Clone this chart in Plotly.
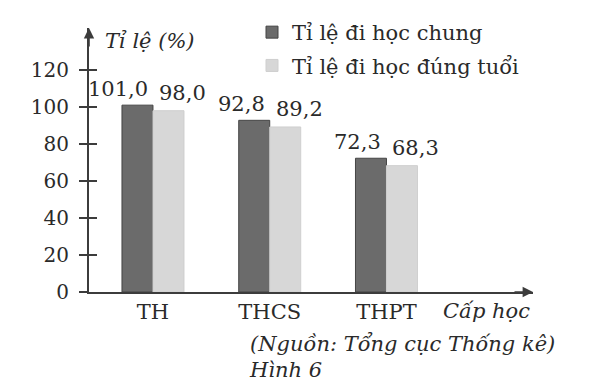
import plotly.graph_objects as go

categories = ["TH", "THCS", "THPT"]
ti_le_chung = [101.0, 92.8, 72.3]
ti_le_dung_tuoi = [98.0, 89.2, 68.3]
y_ticks = [0, 20, 40, 60, 80, 100, 120]

def fmt(v):
    return f"{v:.1f}".replace(".", ",")

FONT = "DejaVu Serif, Liberation Serif, serif"
TXT = "#2a2a2a"
FS = 21
xpos = list(range(len(categories)))

# plot area in pixels: x 81..525, y 20..284
L, R, T, B = 81, 525, 20, 284
W, H = R - L, B - T

def px(x):
    return (x - L) / W

def py(y):
    return (B - y) / H

XR = [-0.548, 3.255]
YR = [0, 142.7]

fig = go.Figure()
fig.add_trace(go.Bar(
    x=xpos, y=ti_le_chung, name="Tỉ lệ đi học chung", legendgroup="a",
    marker=dict(color="#6b6b6b", line=dict(color="#454545", width=1)),
    cliponaxis=False,
))
fig.add_trace(go.Bar(
    x=xpos, y=ti_le_dung_tuoi, name="Tỉ lệ đi học đúng tuổi", legendgroup="b",
    marker=dict(color="#d7d7d7", line=dict(color="#cfcfcf", width=1)),
    cliponaxis=False,
))
fig.add_trace(go.Scatter(x=[None], y=[None], yaxis="y2", showlegend=False,
                         hoverinfo="skip"))

# value labels: dark-bar label ends just left of the group centre,
# light-bar label starts just right of it (as in the printed figure)
for i, v in zip(xpos, ti_le_chung):
    fig.add_annotation(x=i, y=v, xref="x", yref="y", text=fmt(v),
                       showarrow=False, xanchor="right", yanchor="bottom",
                       xshift=-3, yshift=2,
                       font=dict(size=FS, color=TXT, family=FONT))
for i, v in zip(xpos, ti_le_dung_tuoi):
    fig.add_annotation(x=i, y=v, xref="x", yref="y", text=fmt(v),
                       showarrow=False, xanchor="left", yanchor="bottom",
                       xshift=4, yshift=4,
                       font=dict(size=FS, color=TXT, family=FONT))

fig.update_layout(
    width=593, height=388,
    margin=dict(l=L, r=593 - R, t=T, b=388 - B, autoexpand=False),
    paper_bgcolor="white", plot_bgcolor="white",
    font=dict(family=FONT, color=TXT, size=FS),
    barmode="group", bargap=0.469, bargroupgap=0.0,
    xaxis=dict(range=XR, tickvals=xpos, ticktext=categories, showgrid=False,
               zeroline=False, showline=True, linecolor="#3c3c3c", linewidth=2,
               ticks="", tickfont=dict(size=FS, color=TXT, family=FONT)),
    yaxis=dict(range=YR, tickvals=y_ticks, showgrid=False, zeroline=False,
               showline=True, linecolor="#3c3c3c", linewidth=2,
               ticks="outside", ticklen=8, tickwidth=1.5, tickcolor="#3c3c3c",
               ticklabelstandoff=6,
               tickfont=dict(size=FS - 1, color=TXT, family=FONT)),
    yaxis2=dict(range=YR, tickvals=y_ticks, overlaying="y", side="left",
                anchor="x", showgrid=False, zeroline=False, showline=False,
                ticks="inside", ticklen=8, tickwidth=1.5, tickcolor="#3c3c3c",
                showticklabels=False),
    legend=dict(x=px(244), y=py(4), xanchor="left", yanchor="top",
                font=dict(size=FS, color=TXT, family=FONT),
                itemwidth=30, traceorder="grouped", tracegroupgap=3,
                bgcolor="rgba(0,0,0,0)"),
    showlegend=True,
)

# axis arrows
fig.add_annotation(x=XR[1], y=0, xref="x", yref="y", ax=-20, ay=0,
                   text="", showarrow=True, arrowhead=2, arrowsize=1.3,
                   arrowwidth=1.6, arrowcolor="#3c3c3c")
fig.add_annotation(x=XR[0], y=YR[1], xref="x", yref="y", ax=0, ay=20,
                   text="", showarrow=True, arrowhead=2, arrowsize=1.3,
                   arrowwidth=1.6, arrowcolor="#3c3c3c")

def label(text, x, y, xanchor):
    fig.add_annotation(x=px(x), y=py(y), xref="paper", yref="paper",
                       text=text, showarrow=False, xanchor=xanchor,
                       yanchor="middle",
                       font=dict(size=FS, color=TXT, family=FONT))

label("<i>Tỉ lệ (%)</i>", 95, 33, "left")
label("<i>Cấp học</i>", 524, 303, "right")
label("<i>(Nguồn: Tổng cục Thống kê)</i>", 549, 336, "right")
label("<i>Hình 6</i>", 239, 362, "left")

fig.write_html("out.html")
